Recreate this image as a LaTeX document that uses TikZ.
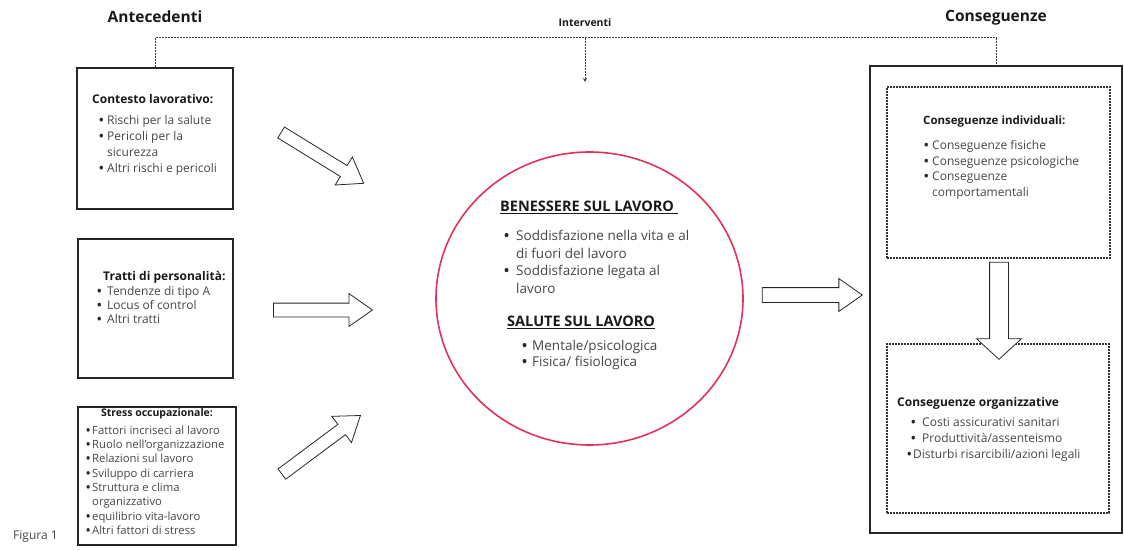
\documentclass[tikz,border=0pt]{standalone}
\usepackage{fontspec}
\setmainfont{Open Sans}
\usetikzlibrary{shapes.geometric,shapes.arrows,arrows.meta}
\definecolor{wellred}{HTML}{E0325C}
\definecolor{bodytext}{HTML}{464646}
\newcommand{\bul}[1][8pt]{\makebox[#1][l]{\textcolor{black!85}{\bfseries\textbullet}}}
\newcommand{\cnt}[1][8pt]{\hspace*{#1}}

\begin{document}
\begin{tikzpicture}[x=1pt,y=-1pt,
  frame/.style={draw=black!85,line width=1.4pt},
  dbox/.style={draw=black!80,line width=1.2pt,dash pattern=on 2pt off 1pt},
  interv/.style={draw=black!75,line width=1pt,dash pattern=on 2pt off 1pt},
  hollow/.style={single arrow,draw=black!85,line width=0.8pt,fill=white,inner xsep=0pt,minimum height=#1,single arrow head indent=0pt},
  head/.style={font=\bfseries\fontsize{15.5}{18}\selectfont,text=black!90},
  title/.style={font=\bfseries\fontsize{12}{15}\selectfont,text=black!90,inner sep=0pt,anchor=west},
  list/.style={font=\fontsize{12}{16}\selectfont,text=bodytext,align=left,inner sep=0pt,anchor=north west}
]
\useasboundingbox (0,0) rectangle (1124,551);

% headings
\node[head] (ant) at (155,17) {Antecedenti};
\node[head] (conseq) at (996,18) {Conseguenze};
\node[font=\bfseries\fontsize{10.5}{12}\selectfont,text=black!90] (intvlab) at (585,23) {Interventi};
\node[font=\fontsize{12}{14}\selectfont,text=bodytext,anchor=west,inner sep=0pt] (fig) at (13,537) {Figura 1};

% antecedenti
\node[frame,minimum width=156,minimum height=141] (ctx) at (155,138.5) {};
\node[title] (ctxtitle) at (92,99) {Contesto lavorativo:};
\node[list] (ctxlist) at (99,115) {\bul Rischi per la salute\\ \bul Pericoli per la\\ \cnt sicurezza\\ \bul Altri rischi e pericoli};

\node[frame,minimum width=155,minimum height=139] (pers) at (155.5,308.5) {};
\node[title] (perstitle) at (103,277) {Tratti di personalità:};
\node[list,font=\fontsize{12}{14}\selectfont] (perslist) at (97,286) {\bul[10pt]Tendenze di tipo A\\ \bul[10pt]Locus of control\\ \bul[10pt]Altri tratti};

\node[frame,minimum width=158,minimum height=138] (stress) at (157,476) {};
\node[title,anchor=center,font=\bfseries\fontsize{10.5}{13}\selectfont] (stresstitle) at (157,414) {Stress occupazionale:};
\node[list,font=\fontsize{11.3}{14.3}\selectfont] (stresslist) at (86,425.5) {\bul[6pt]Fattori incriseci al lavoro\\ \bul[6pt]Ruolo nell'organizzazione\\ \bul[6pt]Relazioni sul lavoro\\ \bul[6pt]Sviluppo di carriera\\ \bul[6pt]Struttura e clima\\ \cnt[6pt]organizzativo\\ \bul[6pt]equilibrio vita-lavoro\\ \bul[6pt]Altri fattori di stress};

% benessere
\node[ellipse,draw=wellred,line width=1.6pt,minimum width=307,minimum height=293] (well) at (589.5,298.5) {};
\node[title,font=\bfseries\fontsize{14.5}{17}\selectfont] (welltitle) at (500,207) {\underline{BENESSERE SUL LAVORO\ }};
\node[list,font=\fontsize{13.5}{17.5}\selectfont] (welllist) at (504,230) {\bul[12pt]Soddisfazione nella vita e al\\ \cnt[12pt]di fuori del lavoro\\ \bul[12pt]Soddisfazione legata al\\ \cnt[12pt]lavoro};
\node[title,font=\bfseries\fontsize{14.5}{17}\selectfont] (healthtitle) at (507,322) {\underline{SALUTE SUL LAVORO}};
\node[list,font=\fontsize{13.5}{16}\selectfont] (healthlist) at (522,340) {\bul[10pt]Mentale/psicologica\\ \bul[10pt]Fisica/ fisiologica};

% conseguenze
\node[frame,minimum width=252,minimum height=467] (cons) at (996,299.5) {};
\node[dbox,minimum width=223,minimum height=171] (indiv) at (998.5,172.5) {};
\node[title,font=\bfseries\fontsize{11.5}{14}\selectfont] (indivtitle) at (923,122) {Conseguenze individuali:};
\node[list,font=\fontsize{12}{15.7}\selectfont] (indivlist) at (924,140) {\bul Conseguenze fisiche\\ \bul Conseguenze psicologiche\\ \bul Conseguenze\\ \cnt comportamentali};
\node[dbox,minimum width=222,minimum height=169] (org) at (998,428.5) {};
\node[title] (orgtitle) at (897,403) {Conseguenze organizzative};
\node[list] (orglist) at (907,417) {\hspace*{4pt}\bul[11pt]Costi assicurativi sanitari\\ \hspace*{4pt}\bul[11pt]Produttività/assenteismo\\ \bul[6pt]Disturbi risarcibili/azioni legali};

% frecce
\node[hollow=97,inner ysep=6pt,single arrow head extend=10pt,single arrow tip angle=70,rotate=-31.6] (a1) at (318.5,155.5) {};
\node[hollow=99,inner ysep=6.5pt,single arrow head extend=9.5pt,single arrow tip angle=70] (a2) at (318,310) {};
\node[hollow=98,inner ysep=6pt,single arrow head extend=10pt,single arrow tip angle=70,rotate=36.7] (a3) at (317.5,447.5) {};
\node[hollow=100,inner ysep=7pt,single arrow head extend=9pt,single arrow tip angle=70] (a4) at (807,295) {};
\node[hollow=97,inner ysep=9pt,single arrow head extend=13pt,single arrow tip angle=95,rotate=-90] (a5) at (999,306.5) {};

% interventi
\coordinate (top) at (585,38);
\coordinate (intv) at (585,82);
\draw[interv] (ctx.north) -- (ctx.north |- top) -- (cons.north |- top) -- (cons.north);
\draw[interv,-{Stealth[length=4pt,width=4pt]}] (top) -- (intv);
\end{tikzpicture}
\end{document}
